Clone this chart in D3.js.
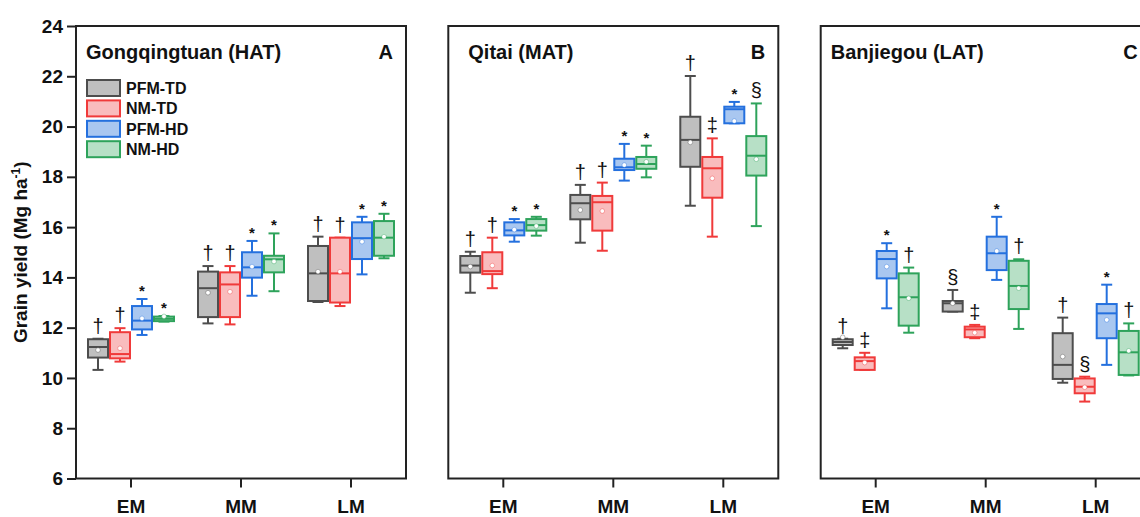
<!DOCTYPE html>
<html>
<head>
<meta charset="utf-8">
<script src="https://cdn.jsdelivr.net/npm/d3@7"></script>
<style>
  body { margin: 0; background: #fff; }
  svg { display: block; font-family: "Liberation Sans", Arial, sans-serif; }
</style>
</head>
<body>
<svg id="chart" width="1140" height="517"></svg>
<script>
// stages and treatments
var stages = ["EM", "MM", "LM"];
var treatments = ["PFM-TD", "NM-TD", "PFM-HD", "NM-HD"];
var sites = ["Gongqingtuan (HAT)", "Qitai (MAT)", "Banjiegou (LAT)"];
var letters = ["A", "B", "C"];
var yTicks = [6, 8, 10, 12, 14, 16, 18, 20, 22, 24];

// box stats: [low, q1, median, q3, high, mean], order EM x4, MM x4, LM x4
var statsHAT = [
  [10.32, 10.81, 11.23, 11.54, 11.56, 11.11], [10.65, 10.78, 10.95, 11.82, 11.98, 11.18],
  [11.71, 11.93, 12.28, 12.86, 13.14, 12.37], [12.24, 12.26, 12.35, 12.44, 12.46, 12.45],
  [12.17, 12.42, 13.57, 14.23, 14.45, 13.39], [12.13, 12.42, 13.72, 14.20, 14.45, 13.43],
  [13.27, 13.99, 14.40, 15.00, 15.45, 14.43], [13.45, 14.20, 14.72, 14.86, 15.75, 14.63],
  [13.02, 13.06, 14.16, 15.25, 15.62, 14.23], [12.86, 13.00, 14.16, 15.58, 15.58, 14.23],
  [14.12, 14.73, 15.56, 16.19, 16.41, 15.42], [14.76, 14.86, 15.58, 16.24, 16.53, 15.62]
];
var statsMAT = [
  [13.39, 14.19, 14.47, 14.85, 15.02, 14.43], [13.57, 14.13, 14.25, 15.00, 15.58, 14.47],
  [15.42, 15.67, 15.87, 16.19, 16.32, 15.90], [15.66, 15.86, 16.08, 16.32, 16.41, 16.04],
  [15.38, 16.31, 16.95, 17.28, 17.68, 16.68], [15.06, 15.86, 16.99, 17.24, 17.77, 16.64],
  [17.85, 18.27, 18.38, 18.72, 19.31, 18.47], [17.98, 18.32, 18.51, 18.79, 19.24, 18.60],
  [16.85, 18.40, 19.47, 20.39, 22.01, 19.37], [15.62, 17.17, 18.34, 18.79, 19.53, 17.94],
  [20.13, 20.13, 20.69, 20.79, 20.98, 20.22], [16.04, 18.05, 18.84, 19.62, 20.92, 18.70]
];
var statsLAT = [
  [11.18, 11.31, 11.43, 11.54, 11.56, 11.62], [10.32, 10.32, 10.67, 10.82, 11.00, 10.61],
  [12.77, 13.96, 14.73, 15.05, 15.36, 14.43], [11.80, 12.08, 13.21, 14.16, 14.39, 13.17],
  [12.64, 12.64, 12.97, 13.06, 13.50, 12.97], [11.58, 11.62, 11.93, 12.04, 12.11, 11.80],
  [13.90, 14.29, 14.96, 15.62, 16.41, 15.05], [11.95, 12.74, 13.66, 14.66, 14.72, 13.57],
  [9.81, 9.96, 10.52, 11.78, 12.40, 10.85], [9.06, 9.39, 9.65, 9.98, 10.05, 9.63],
  [10.52, 11.58, 12.57, 12.94, 13.71, 12.31], [10.10, 10.12, 11.02, 11.87, 12.17, 11.08]
];

// significance marks above each box
var marksHAT = ["†", "†", "*", "*", "†", "†", "*", "*", "†", "†", "*", "*"];
var marksMAT = ["†", "†", "*", "*", "†", "†", "*", "*", "†", "‡", "*", "§"];
var marksLAT = ["†", "‡", "*", "†", "§", "‡", "*", "†", "†", "§", "*", "†"];

var allStats = [statsHAT, statsMAT, statsLAT];
var allMarks = [marksHAT, marksMAT, marksLAT];

// layout
var panelLeft = [76, 448.3, 820.7];
var titleDx = [10, 20, 10];
var panelW = 330, plotTop = 26, plotBottom = 478.5;
var boxW = 20, capW = 11;

var strokeCol = ["#4d4d4d", "#f03a3a", "#2470de", "#2ea35b"];
var fillCol = ["#bfbfbf", "#f9bcbd", "#a9c7f0", "#b7e0c6"];

var svg = d3.select("#chart");

var y = d3.scaleLinear().domain([6, 24]).range([plotBottom, plotTop]);

sites.forEach(function(site, p) {
  var g = svg.append("g").attr("transform", "translate(" + panelLeft[p] + ",0)");

  var x = d3.scaleBand().domain(stages).range([0, panelW]);
  var xi = d3.scaleBand().domain(treatments).range([0, 88]);

  // x axis
  var xAxis = g.append("g")
    .attr("transform", "translate(0," + plotBottom + ")")
    .call(d3.axisBottom(x).tickSize(9).tickPadding(12));
  xAxis.select(".domain").remove();
  xAxis.selectAll("line").attr("stroke", "#222").attr("stroke-width", 2);
  xAxis.selectAll("text").attr("font-size", 19).attr("font-weight", "bold").attr("fill", "#111")
    .attr("font-family", "Liberation Sans, Arial, sans-serif");

  // y axis on first panel
  if (p === 0) {
    var yAxis = g.append("g")
      .call(d3.axisLeft(y).tickValues(yTicks).tickSize(9).tickPadding(4));
    yAxis.select(".domain").remove();
    yAxis.selectAll("line").attr("stroke", "#222").attr("stroke-width", 2);
    yAxis.selectAll("text").attr("font-size", 19).attr("font-weight", "bold").attr("fill", "#111")
      .attr("font-family", "Liberation Sans, Arial, sans-serif");
  }

  var stats = allStats[p];
  var marks = allMarks[p];

  stats.forEach(function(s, i) {
    var stage = stages[Math.floor(i / 4)];
    var t = i % 4;
    var cx = x(stage) + x.bandwidth() / 2 - 44 + xi(treatments[t]) + xi.bandwidth() / 2;
    var b = g.append("g");
    var sc = strokeCol[t];

    // whiskers
    b.append("line").attr("x1", cx).attr("x2", cx).attr("y1", y(s[0])).attr("y2", y(s[1]))
      .attr("stroke", sc).attr("stroke-width", 2);
    b.append("line").attr("x1", cx).attr("x2", cx).attr("y1", y(s[3])).attr("y2", y(s[4]))
      .attr("stroke", sc).attr("stroke-width", 2);
    [s[0], s[4]].forEach(function(v) {
      b.append("line").attr("x1", cx - capW / 2).attr("x2", cx + capW / 2)
        .attr("y1", y(v)).attr("y2", y(v)).attr("stroke", sc).attr("stroke-width", 2);
    });
    // box
    b.append("rect").attr("x", cx - boxW / 2).attr("y", y(s[3]))
      .attr("width", boxW).attr("height", Math.max(1, y(s[1]) - y(s[3])))
      .attr("fill", fillCol[t]).attr("stroke", sc).attr("stroke-width", 2);
    // median
    b.append("line").attr("x1", cx - boxW / 2).attr("x2", cx + boxW / 2)
      .attr("y1", y(s[2])).attr("y2", y(s[2])).attr("stroke", sc).attr("stroke-width", 2);
    // mean
    b.append("circle").attr("cx", cx).attr("cy", y(s[5])).attr("r", 2.3)
      .attr("fill", "#fff").attr("stroke", sc).attr("stroke-opacity", 0.4).attr("stroke-width", 1);
    // mark
    var m = marks[i];
    b.append("text").attr("x", cx).attr("y", y(s[4]) - (m === "*" ? 3 : 6))
      .attr("text-anchor", "middle")
      .attr("font-size", m === "*" ? 15 : 20)
      .attr("font-family", "Liberation Sans, Arial, sans-serif")
      .attr("font-weight", m === "*" ? "bold" : "normal")
      .attr("fill", "#111")
      .text(m);
  });

  // frame
  g.append("rect").attr("x", 0).attr("y", plotTop).attr("width", panelW).attr("height", plotBottom - plotTop)
    .attr("fill", "none").attr("stroke", "#222").attr("stroke-width", 2);

  // titles
  g.append("text").attr("x", titleDx[p]).attr("y", 59)
    .attr("font-size", 20).attr("font-weight", "bold").attr("fill", "#111").text(site);
  g.append("text").attr("x", panelW - 13).attr("y", 59).attr("text-anchor", "end")
    .attr("font-size", 20).attr("font-weight", "bold").attr("fill", "#111").text(letters[p]);

  // legend in panel A
  if (p === 0) {
    var legend = g.selectAll(".legend").data(treatments).enter().append("g")
      .attr("class", "legend")
      .attr("transform", function(d, i) { return "translate(11," + (80 + i * 20.4) + ")"; });
    legend.append("rect").attr("width", 33).attr("height", 16)
      .attr("fill", function(d, i) { return fillCol[i]; })
      .attr("stroke", function(d, i) { return strokeCol[i]; }).attr("stroke-width", 2);
    legend.append("text").attr("x", 39).attr("y", 14)
      .attr("font-size", 16).attr("font-weight", "bold").attr("fill", "#111")
      .text(function(d) { return d; });
  }
});

// y axis title
var yt = svg.append("text")
  .attr("transform", "translate(27," + ((plotTop + plotBottom) / 2) + ") rotate(-90)")
  .attr("text-anchor", "middle").attr("font-size", 19).attr("font-weight", "bold").attr("fill", "#111");
yt.append("tspan").text("Grain yield (Mg ha");
yt.append("tspan").attr("dy", -7).attr("font-size", 12).text("-1");
yt.append("tspan").attr("dy", 7).text(")");
</script>
</body>
</html>
